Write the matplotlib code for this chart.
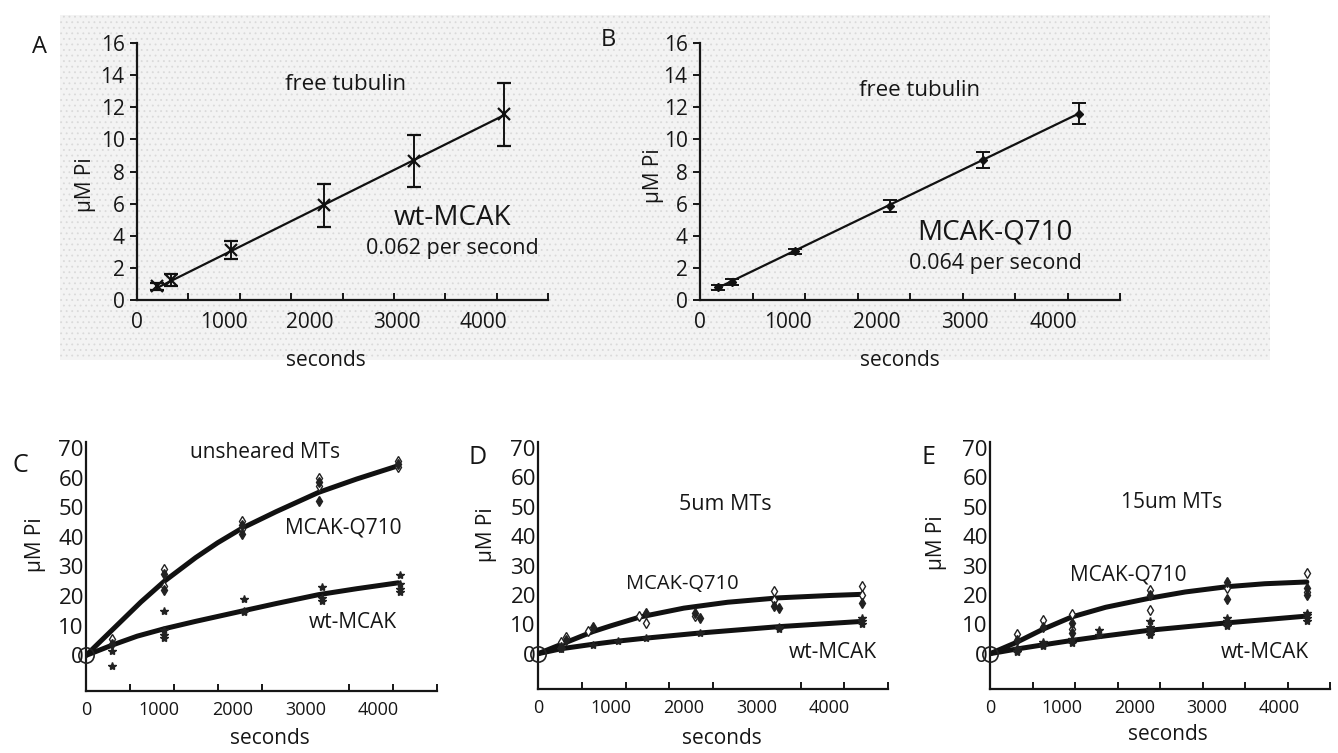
import numpy as np
import matplotlib
matplotlib.use("Agg")
import matplotlib.pyplot as plt
from matplotlib.patches import Rectangle

plt.rcParams['font.family'] = ['Open Sans', 'DejaVu Sans']
plt.rcParams['hatch.linewidth'] = 0.6
plt.rcParams['text.color'] = '#161616'
plt.rcParams['xtick.color'] = '#161616'
plt.rcParams['ytick.color'] = '#161616'

# --- data ---
# A: wt-MCAK, free tubulin
a_x = [230, 390, 1090, 2165, 3200, 4240]
a_y = [0.85, 1.25, 3.1, 5.9, 8.65, 11.55]
a_err = [0.2, 0.35, 0.55, 1.35, 1.6, 1.95]
a_fit_x = [230, 4240]
a_fit_y = [0.75, 11.5]

# B: MCAK-Q710, free tubulin
b_x = [200, 360, 1080, 2150, 3210, 4290]
b_y = [0.78, 1.13, 3.04, 5.85, 8.72, 11.6]
b_err = [0.15, 0.2, 0.15, 0.38, 0.5, 0.65]
b_fit_x = [200, 4290]
b_fit_y = [0.75, 11.6]

# C: unsheared MTs
c_q_x = [360, 360, 1070, 1070, 1070, 1070, 2140, 2140, 2140, 2140, 3180, 3180, 3180, 3180, 4270, 4270, 4270]
c_q_y = [5.6, 4.0, 29, 27.5, 23.5, 22, 45.5, 44, 42.5, 41, 60, 58.5, 57, 52, 65.5, 64.5, 63.5]
c_w_x = [360, 360, 1070, 1070, 1070, 1070, 2160, 2160, 2160, 3230, 3230, 3230, 4300, 4300, 4300, 4300]
c_w_y = [1.5, -3.5, 15, 8.5, 7, 6, 19, 15, 14.5, 23, 19.5, 18.5, 27, 24, 22.5, 21.5]
c_q_fit_x = [0, 250, 500, 750, 1070, 1500, 1800, 2140, 2600, 3180, 3700, 4270]
c_q_fit_y = [0, 6, 12, 18, 25, 33, 38, 43, 48.5, 55, 59.5, 64]
c_w_fit_x = [0, 360, 700, 1070, 1500, 2140, 2600, 3180, 3700, 4270]
c_w_fit_y = [0, 3.5, 6.5, 9, 11.5, 15, 17.5, 20.5, 22.5, 24.5]

# D: 5um MTs
d_q_x = [320, 320, 390, 390, 690, 750, 1390, 1480, 1480, 2150, 2150, 2220, 3240, 3240, 3240, 3310, 4450, 4450, 4450]
d_q_y = [3.9, 2.2, 5.6, 4.5, 7.8, 9.0, 12.9, 14.0, 10.6, 14.0, 12.7, 12.3, 18.1, 16.2, 21.3, 15.7, 23.0, 17.1, 20.0]
d_w_x = [320, 750, 1100, 1480, 2220, 3300, 3300, 4450, 4450, 4450]
d_w_y = [1.5, 3, 4.2, 5.4, 7, 9, 8.5, 12, 11, 10]
d_q_fit_x = [0, 320, 750, 1000, 1400, 2000, 2600, 3300, 4000, 4450]
d_q_fit_y = [0, 3.2, 7.5, 9.5, 12.5, 15.5, 17.5, 19, 19.8, 20.2]
d_w_fit_x = [0, 320, 750, 1100, 1480, 2200, 3300, 4450]
d_w_fit_y = [0, 1.7, 3.2, 4.3, 5.3, 7, 9.2, 11]

# E: 15um MTs
e_q_x = [370, 370, 730, 730, 1130, 1130, 1130, 1130, 2210, 2210, 2210, 3280, 3280, 3280, 4380, 4380, 4380, 4380]
e_q_y = [6.7, 4.5, 11.4, 9, 13.6, 10.5, 8.5, 7.2, 21.5, 20, 14.7, 24.5, 22.5, 18.6, 27.5, 22.5, 21, 20]
e_w_x = [370, 370, 370, 730, 730, 730, 1130, 1130, 1510, 1510, 2210, 2210, 2210, 2210, 2210, 3280, 3280, 3280, 3280, 4380, 4380, 4380, 4380]
e_w_y = [2, 1, 0.5, 4, 3, 2.5, 5, 3.5, 8, 6.5, 11, 9, 8, 7, 6.5, 12, 11, 10, 9.5, 14, 13, 12, 11]
e_q_fit_x = [0, 370, 730, 1130, 1600, 2210, 2700, 3280, 3800, 4380]
e_q_fit_y = [0, 3.9, 8.3, 12.5, 15.8, 18.9, 21, 22.8, 23.8, 24.4]
e_w_fit_x = [0, 370, 730, 1130, 1510, 2210, 3280, 4380]
e_w_fit_y = [0, 1.6, 3, 4.5, 5.8, 8, 10.5, 12.8]

x_labels = [0, 1000, 2000, 3000, 4000]

W, H = 1338, 753
fig = plt.figure(figsize=(W / 100, H / 100), dpi=100)
fig.patch.set_facecolor('white')


def box(l, r, t, b):
    return [l / W, 1 - b / H, (r - l) / W, (b - t) / H]


def ftext(x, y, s, **kw):
    fig.text(x / W, 1 - y / H, s, ha='center', va='center', **kw)


# stippled grey background behind A and B
fig.patches.append(Rectangle((60 / W, 1 - 360 / H), 1210 / W, 345 / H, transform=fig.transFigure,
                             facecolor='#f3f3f3', edgecolor='#dadada', hatch='...', lw=0, zorder=-5))


def style_axes(ax, xmax, ymin, ymax, yticks, ylab_size, xlab_size, ytick_len, ypad, xpad):
    ax.set_facecolor('none')
    ax.set_xlim(0, xmax)
    ax.set_ylim(ymin, ymax)
    for s in ['top', 'right']:
        ax.spines[s].set_visible(False)
    for s in ['left', 'bottom']:
        ax.spines[s].set_linewidth(1.6)
        ax.spines[s].set_color('#161616')
    ax.set_xticks(x_labels)
    ax.set_xticks(np.linspace(0, xmax, 9), minor=True)
    ax.set_yticks(yticks)
    ax.tick_params(axis='x', which='major', length=0, pad=xpad, labelsize=xlab_size)
    ax.tick_params(axis='x', which='minor', direction='in', length=5, width=1.4)
    ax.tick_params(axis='y', which='major', direction='out', length=ytick_len, width=1.4,
                   pad=ypad, labelsize=ylab_size)


# --- A ---
axA = fig.add_axes(box(137, 548, 43, 300))
style_axes(axA, 4750, 0, 16, range(0, 17, 2), 15, 15, 5, 4, 9)
axA.plot(a_fit_x, a_fit_y, color='#111111', lw=1.6, zorder=2)
axA.errorbar(a_x, a_y, yerr=a_err, fmt='x', color='#111111', ms=8, mew=1.6,
             elinewidth=1.4, capsize=5, capthick=1.4, zorder=3)
ftext(40, 47, 'A', fontsize=17)
ftext(346, 85, 'free tubulin', fontsize=16)
ftext(452, 218, 'wt-MCAK', fontsize=20)
ftext(452, 249, '0.062 per second', fontsize=15.5)
ftext(326, 360, 'seconds', fontsize=15)
ftext(86, 185, 'µM Pi', fontsize=15, rotation=90)

# --- B ---
axB = fig.add_axes(box(700, 1120, 43, 300))
style_axes(axB, 4760, 0, 16, range(0, 17, 2), 15, 15, 5, 4, 9)
axB.plot(b_fit_x, b_fit_y, color='#111111', lw=1.6, zorder=2)
axB.errorbar(b_x, b_y, yerr=b_err, fmt='D', color='#111111', ms=4,
             elinewidth=1.4, capsize=5, capthick=1.4, zorder=3)
ftext(608, 40, 'B', fontsize=17)
ftext(920, 90, 'free tubulin', fontsize=16)
ftext(995, 232, 'MCAK-Q710', fontsize=20)
ftext(995, 264, '0.064 per second', fontsize=15.5)
ftext(900, 360, 'seconds', fontsize=15)
ftext(653, 176, 'µM Pi', fontsize=15, rotation=90)


def kinetics(box_px, qx, qy, wx, wy, qfx, qfy, wfx, wfy, xmax):
    ax = fig.add_axes(box(*box_px))
    style_axes(ax, xmax, -12, 72, range(0, 71, 10), 16, 13, 0, 1.5, 7)
    ax.plot(qfx, qfy, color='#111111', lw=3.6, solid_capstyle='round', zorder=2)
    ax.plot(wfx, wfy, color='#111111', lw=3.6, solid_capstyle='round', zorder=2)
    # Q710 replicates: alternating open / filled diamonds
    ax.plot(qx[::2], qy[::2], 'd', color='#222222', mfc='white', ms=5, mew=1.0, zorder=3)
    ax.plot(qx[1::2], qy[1::2], 'd', color='#222222', ms=5, zorder=3)
    ax.plot(wx, wy, '*', color='#222222', ms=6, zorder=3)
    ax.plot([0], [0], 'o', mfc='none', mec='#222222', ms=11, mew=1.2, zorder=4, clip_on=False)
    return ax


# --- C ---
kinetics((86, 437, 442, 691), c_q_x, c_q_y, c_w_x, c_w_y,
         c_q_fit_x, c_q_fit_y, c_w_fit_x, c_w_fit_y, 4800)
ftext(20, 465, 'C', fontsize=18)
ftext(265, 453, 'unsheared MTs', fontsize=15)
ftext(343, 528, 'MCAK-Q710', fontsize=15)
ftext(353, 622, 'wt-MCAK', fontsize=15)
ftext(270, 738, 'seconds', fontsize=15)
ftext(35, 545, 'µM Pi', fontsize=15, rotation=90)

# --- D ---
kinetics((538, 888, 442, 689), d_q_x, d_q_y, d_w_x, d_w_y,
         d_q_fit_x, d_q_fit_y, d_w_fit_x, d_w_fit_y, 4800)
ftext(478, 457, 'D', fontsize=18)
ftext(725, 505, '5um MTs', fontsize=15.5)
ftext(682, 584, 'MCAK-Q710', fontsize=14.5)
ftext(833, 652, 'wt-MCAK', fontsize=15)
ftext(722, 738, 'seconds', fontsize=15)
ftext(487, 535, 'µM Pi', fontsize=15, rotation=90)

# --- E ---
kinetics((990, 1330, 442, 689), e_q_x, e_q_y, e_w_x, e_w_y,
         e_q_fit_x, e_q_fit_y, e_w_fit_x, e_w_fit_y, 4700)
ftext(928, 457, 'E', fontsize=18)
ftext(1172, 502, '15um MTs', fontsize=15)
ftext(1128, 575, 'MCAK-Q710', fontsize=15)
ftext(1265, 653, 'wt-MCAK', fontsize=15)
ftext(1168, 735, 'seconds', fontsize=15)
ftext(937, 543, 'µM Pi', fontsize=15, rotation=90)

fig.savefig('out.png', dpi=100)
